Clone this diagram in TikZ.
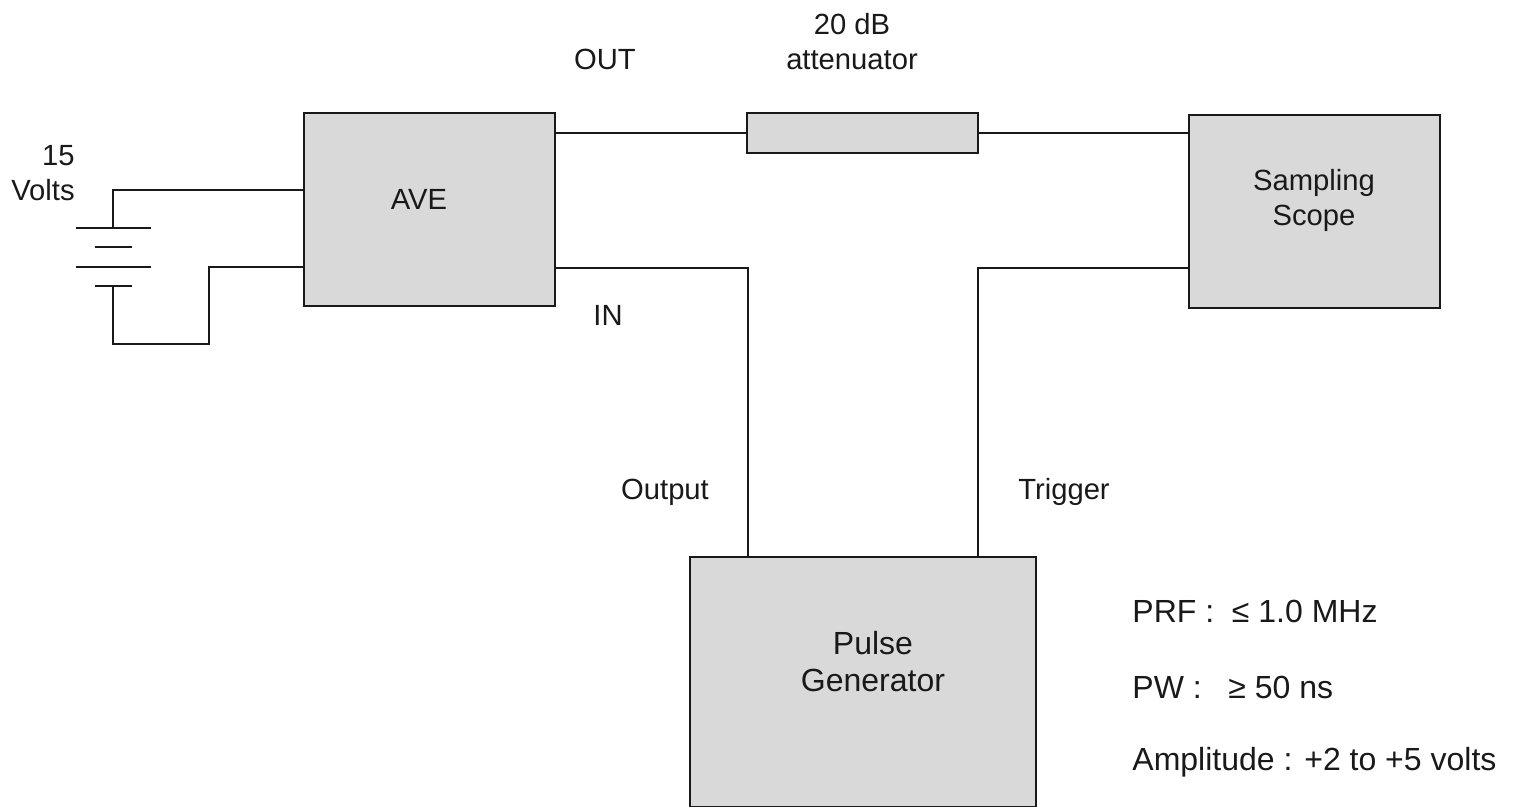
\documentclass[tikz,border=0pt]{standalone}
\usepackage{fontspec}
\setmainfont{Liberation Sans}
\usetikzlibrary{positioning}

\tikzset{
	unit/.style={draw=black!90,fill=black!15,line width=1.1pt,minimum width=#1,inner sep=0pt},
	lbl/.style={inner sep=0pt,align=center,font=\fontsize{14.6}{17.5}\selectfont,text=black!90},
	big/.style={lbl,font=\fontsize{16}{18.5}\selectfont},
	wire/.style={draw=black!90,line width=1.1pt}
}

\begin{document}
\begin{tikzpicture}[x=0.5pt,y=-0.5pt]
	\useasboundingbox (0,0) rectangle (1514,807);
	\clip (0,0) rectangle (1514,807);

	\node[unit=125.5pt,minimum height=96.5pt] (ave) at (429.5,209.5) {};
	\node[unit=115.5pt,minimum height=20pt] (atten) at (862.5,133) {};
	\node[unit=125.5pt,minimum height=96.5pt] (scope) at (1314.5,211.5) {};
	\node[unit=173pt,minimum height=125pt] (pulse) at (863,682) {};

	\node[lbl] (avetxt) at (419,199) {AVE};
	\node[lbl] (scopetxt) at (1314,200) {Sampling\\Scope};
	\node[big] (pulsetxt) at (873,662) {Pulse\\Generator};
	\node[lbl] (attentxt) at (852,42) {20 dB\\attenuator};
	\node[lbl] (outtxt) at (605,59) {OUT};
	\node[lbl] (intxt) at (608,315) {IN};
	\node[lbl] (outputtxt) at (665,492) {Output};
	\node[lbl] (triggertxt) at (1064,492) {Trigger};
	\node[lbl,align=right,anchor=east] (volts) at (75,173) {15\\Volts};
	\node[big,anchor=west] (prf) at (1132,611) {PRF :~~≤ 1.0 MHz};
	\node[big,anchor=west] (pw) at (1132,687) {PW :~~~≥ 50 ns};
	\node[big,anchor=west] (amp) at (1132,762) {Amplitude : +2 to +5 volts};

	% battery plates
	\coordinate (p1l) at (76,228); \coordinate (p1r) at (151,228);
	\coordinate (p2l) at (95,247); \coordinate (p2r) at (132,247);
	\coordinate (p3l) at (76,267); \coordinate (p3r) at (151,267);
	\coordinate (p4l) at (95,286); \coordinate (p4r) at (132,286);
	\coordinate (p1) at (113,228);
	\coordinate (p4) at (113,286);
	\coordinate (p3) at (209,267);
	\draw[wire] (p1l) -- (p1r);
	\draw[wire] (p2l) -- (p2r);
	\draw[wire] (p3l) -- (p3r);
	\draw[wire] (p4l) -- (p4r);

	\coordinate (avein1) at (ave.west |- 0,190);
	\coordinate (avein2) at (ave.west |- 0,267);
	\draw[wire] (avein1) -| (p1);
	\draw[wire] (p4) |- (209,344) -- (p3) -- (avein2);

	\coordinate (aveout) at (ave.east |- atten.west);
	\coordinate (scopein) at (scope.west |- atten.east);
	\coordinate (avepin) at (ave.east |- 0,268);
	\coordinate (scopetr) at (scope.west |- 0,268);
	\coordinate (pulseout) at (748,557);
	\coordinate (pulsetr) at (978,557);
	\draw[wire] (aveout) -- (atten.west);
	\draw[wire] (atten.east) -- (scopein);
	\draw[wire] (avepin) -| (pulseout);
	\draw[wire] (scopetr) -| (pulsetr);
\end{tikzpicture}
\end{document}
